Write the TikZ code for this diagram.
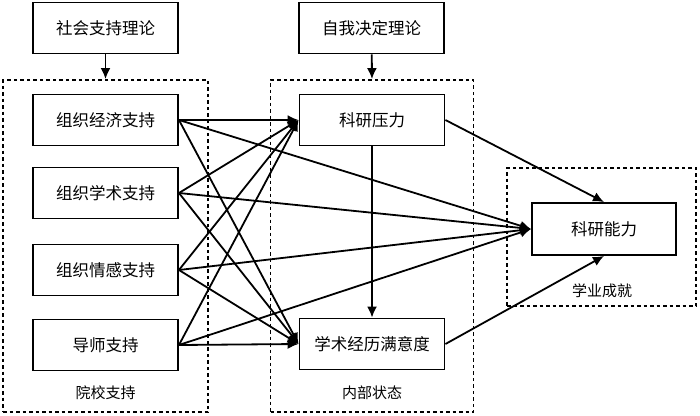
\documentclass[tikz,border=0pt]{standalone}
\usepackage{fontspec}
\newfontfamily\cjk{Noto Sans CJK SC}
\usetikzlibrary{arrows.meta}
\tikzset{
  box/.style={draw, line width=1.9pt, minimum width=145pt, minimum height=51pt, inner sep=0pt, font=\cjk\fontsize{16.5}{18}\selectfont},
  grp/.style={draw, line width=1.9pt, dash pattern=on 3.5pt off 3pt, minimum width=#1, inner sep=0pt},
  lab/.style={font=\cjk\fontsize{15}{17}\selectfont, inner sep=0pt},
  arr/.style={line width=1.8pt, -{Latex[length=11pt,width=10pt]}}
}
\begin{document}
\begin{tikzpicture}[x=1pt,y=-1pt]
\useasboundingbox (0,0) rectangle (700,415);
% groups
\node[grp=205pt, minimum height=332pt] (g1) at (105.5,246) {};
\node[grp=203pt, minimum height=332pt] (g2) at (372,246) {};
\node[grp=189pt, minimum height=138pt] (g3) at (601.5,237) {};
\node[lab] (l1) at (105.5,393) {院校支持};
\node[lab] (l2) at (372,393) {内部状态};
\node[lab] (l3) at (602,291) {学业成就};
% theory boxes
\node[box] (t1) at (105.5,28) {社会支持理论};
\node[box] (t2) at (371.5,28) {自我决定理论};
% left boxes
\node[box] (a1) at (105.5,120) {组织经济支持};
\node[box] (a2) at (105.5,193) {组织学术支持};
\node[box] (a3) at (105.5,270) {组织情感支持};
\node[box] (a4) at (105.5,345) {导师支持};
% middle
\node[box] (p) at (372,120) {科研压力};
\node[box] (s) at (372,344) {学术经历满意度};
% right
\node[box, minimum width=144pt, minimum height=52pt] (k) at (604,229) {科研能力};
% arrows
\draw[arr] (t1) -- (g1.north);
\draw[arr] (t2) -- (g2.north);
\foreach \a in {a1,a2,a3,a4}{
  \draw[arr] (\a.east) -- (p.west);
  \draw[arr] (\a.east) -- (s.west);
  \draw[arr] (\a.east) -- (k.west);
}
\draw[arr] (p) -- (s);
\draw[arr] (p.east) -- (k.north);
\draw[arr] (s.east) -- (k.south);
\end{tikzpicture}
\end{document}
